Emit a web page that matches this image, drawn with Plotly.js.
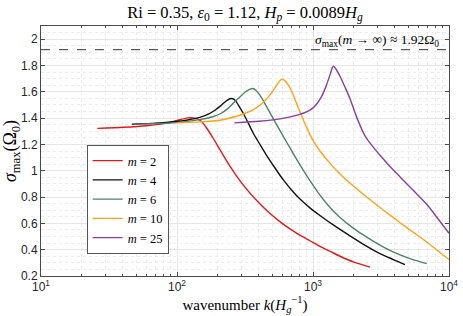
<!DOCTYPE html>
<html><head><meta charset="utf-8">
<script src="https://cdn.plot.ly/plotly-3.0.1.min.js"></script>
<style>html,body{margin:0;padding:0;background:#fff}#plot{width:463px;height:316px}</style>
</head><body><div id="plot"></div>
<script>
// m = 2
const k2 = [26, 40, 60, 80, 100, 120, 135, 150, 165, 185, 207, 245, 290, 344, 410, 483, 580, 678, 800, 950, 1125, 1350, 1580, 2000, 2625];
const s2 = [1.322, 1.33, 1.342, 1.358, 1.382, 1.402, 1.40, 1.378, 1.325, 1.245, 1.16, 1.035, 0.925, 0.83, 0.745, 0.675, 0.608, 0.558, 0.51, 0.468, 0.425, 0.385, 0.35, 0.305, 0.268];
// m = 4
const k4 = [46.5, 70, 94, 120, 147, 170, 190, 210, 230, 245, 258, 272, 290, 308, 335, 364, 410, 457, 530, 605, 700, 802, 950, 1125, 1400, 1870, 2400, 3110, 3900, 4745];
const s4 = [1.354, 1.362, 1.372, 1.386, 1.405, 1.43, 1.46, 1.495, 1.53, 1.547, 1.547, 1.525, 1.48, 1.435, 1.36, 1.285, 1.195, 1.115, 1.015, 0.93, 0.85, 0.785, 0.718, 0.66, 0.59, 0.505, 0.435, 0.37, 0.325, 0.287];
// m = 6
const k6 = [55, 94, 147, 185, 210, 235, 260, 290, 320, 345, 362, 380, 407, 440, 483, 572, 650, 716, 802, 950, 1125, 1350, 1580, 2000, 2483, 3300, 4370, 5500, 6860];
const s6 = [1.356, 1.364, 1.388, 1.412, 1.435, 1.47, 1.515, 1.561, 1.6, 1.62, 1.625, 1.612, 1.574, 1.515, 1.44, 1.305, 1.205, 1.13, 1.045, 0.925, 0.815, 0.715, 0.645, 0.56, 0.495, 0.42, 0.36, 0.322, 0.294];
// m = 10
const k10 = [100, 147, 207, 290, 350, 407, 460, 497, 540, 575, 595, 620, 658, 700, 758, 850, 930, 1000, 1125, 1350, 1580, 2000, 2483, 3300, 4370, 5500, 6820, 8300, 10000];
const s10 = [1.364, 1.371, 1.384, 1.422, 1.455, 1.498, 1.55, 1.594, 1.648, 1.688, 1.696, 1.685, 1.652, 1.6, 1.51, 1.385, 1.295, 1.23, 1.15, 1.05, 0.975, 0.88, 0.80, 0.70, 0.605, 0.53, 0.46, 0.39, 0.325];
// m = 25
const k25 = [264, 400, 600, 800, 950, 1050, 1150, 1250, 1333, 1390, 1420, 1470, 1580, 1720, 1870, 2080, 2344, 2500, 2700, 2900, 3110, 3700, 4370, 5500, 6860, 8300, 10000];
const s25 = [1.364, 1.376, 1.398, 1.428, 1.46, 1.5, 1.56, 1.645, 1.728, 1.785, 1.795, 1.775, 1.718, 1.635, 1.549, 1.415, 1.29, 1.24, 1.195, 1.155, 1.118, 1.03, 0.953, 0.848, 0.745, 0.635, 0.525];

const sigmaInf = 1.92;
const legendNames = ['<i>m</i> = 2', '<i>m</i> = 4', '<i>m</i> = 6', '<i>m</i> = 10', '<i>m</i> = 25'];
const colors = ['#e0191c', '#111111', '#4f7f6b', '#ffa31a', '#8540a0'];
const xTickVals = [10, 100, 1000, 10000];
const xTickText = ['10<sup>1</sup>', '10<sup>2</sup>', '10<sup>3</sup>', '10<sup>4</sup>'];

const ks = [k2, k4, k6, k10, k25];
const ss = [s2, s4, s6, s10, s25];
const traces = ks.map((k, i) => ({
  x: k, y: ss[i], type: 'scatter', mode: 'lines', name: legendNames[i],
  line: {color: colors[i], width: 1.4, shape: 'spline', smoothing: 0.6}
}));

const serif = 'Liberation Serif, DejaVu Serif, serif';
const sans = 'Liberation Sans, Arial, sans-serif';
const axisCol = '#4a4a4a';

const layout = {
  width: 463, height: 316,
  margin: {l: 41, r: 14, t: 26, b: 40},
  paper_bgcolor: '#fff', plot_bgcolor: '#fff',
  title: {text: 'Ri = 0.35, <i>ε</i><sub>0</sub> = 1.12, <i>H<sub>p</sub></i> = 0.0089<i>H<sub>g</sub></i>',
          font: {family: serif, size: 16.5, color: '#000'}, x: 0.5, xanchor: 'center', xref: 'paper',
          y: 0.962, yanchor: 'middle', yref: 'container'},
  showlegend: true,
  legend: {x: 0.112, y: 0.306, xanchor: 'left', yanchor: 'middle', bgcolor: '#fff',
           bordercolor: '#555', borderwidth: 1, font: {family: serif, size: 12.5, color: '#000'},
           tracegroupgap: 0, itemwidth: 30},
  xaxis: {
    type: 'log', range: [1, 4], tickmode: 'array', tickvals: xTickVals, ticktext: xTickText,
    ticks: 'inside', ticklen: 4, tickcolor: axisCol, mirror: 'ticks', showline: true, linecolor: axisCol, linewidth: 1,
    showgrid: true, gridcolor: '#e6e6e6', gridwidth: 1, zeroline: false,
    tickfont: {family: sans, size: 12, color: '#262626'},
    minor: {dtick: 'D1', ticks: 'inside', ticklen: 2, tickcolor: axisCol, showgrid: true, gridcolor: '#ececec', griddash: 'dot', gridwidth: 1},
    title: {text: 'wavenumber <i>k</i>(<i>H<sub>g</sub></i><sup>−1</sup>)', font: {family: serif, size: 15, color: '#000'}, standoff: 3}
  },
  yaxis: {
    range: [0.2, 2.1], tick0: 0, dtick: 0.2,
    ticks: 'inside', ticklen: 4, tickcolor: axisCol, mirror: 'ticks', showline: true, linecolor: axisCol, linewidth: 1,
    showgrid: true, gridcolor: '#e6e6e6', gridwidth: 1, zeroline: false,
    tickfont: {family: sans, size: 12, color: '#262626'},
    minor: {dtick: 0.05, ticks: '', showgrid: true, gridcolor: '#ececec', griddash: 'dot', gridwidth: 1},
    title: {text: '<i>σ</i><sub>max</sub>(Ω<sub>0</sub>)', font: {family: serif, size: 18, color: '#000'}, standoff: 2}
  },
  shapes: [{type: 'line', xref: 'paper', x0: 0, x1: 1, yref: 'y', y0: sigmaInf, y1: sigmaInf,
            line: {color: '#333', width: 1, dash: 'dash'}}],
  annotations: [{xref: 'paper', yref: 'y', x: 0.98, y: 1.99, xanchor: 'right', yanchor: 'middle', showarrow: false,
                 text: '<i>σ</i><sub>max</sub>(<i>m</i> → ∞) ≈ 1.92Ω<sub>0</sub>', font: {family: serif, size: 13.5, color: '#000'}}]
};

Plotly.newPlot('plot', traces, layout, {displayModeBar: false, staticPlot: true});
</script></body></html>
